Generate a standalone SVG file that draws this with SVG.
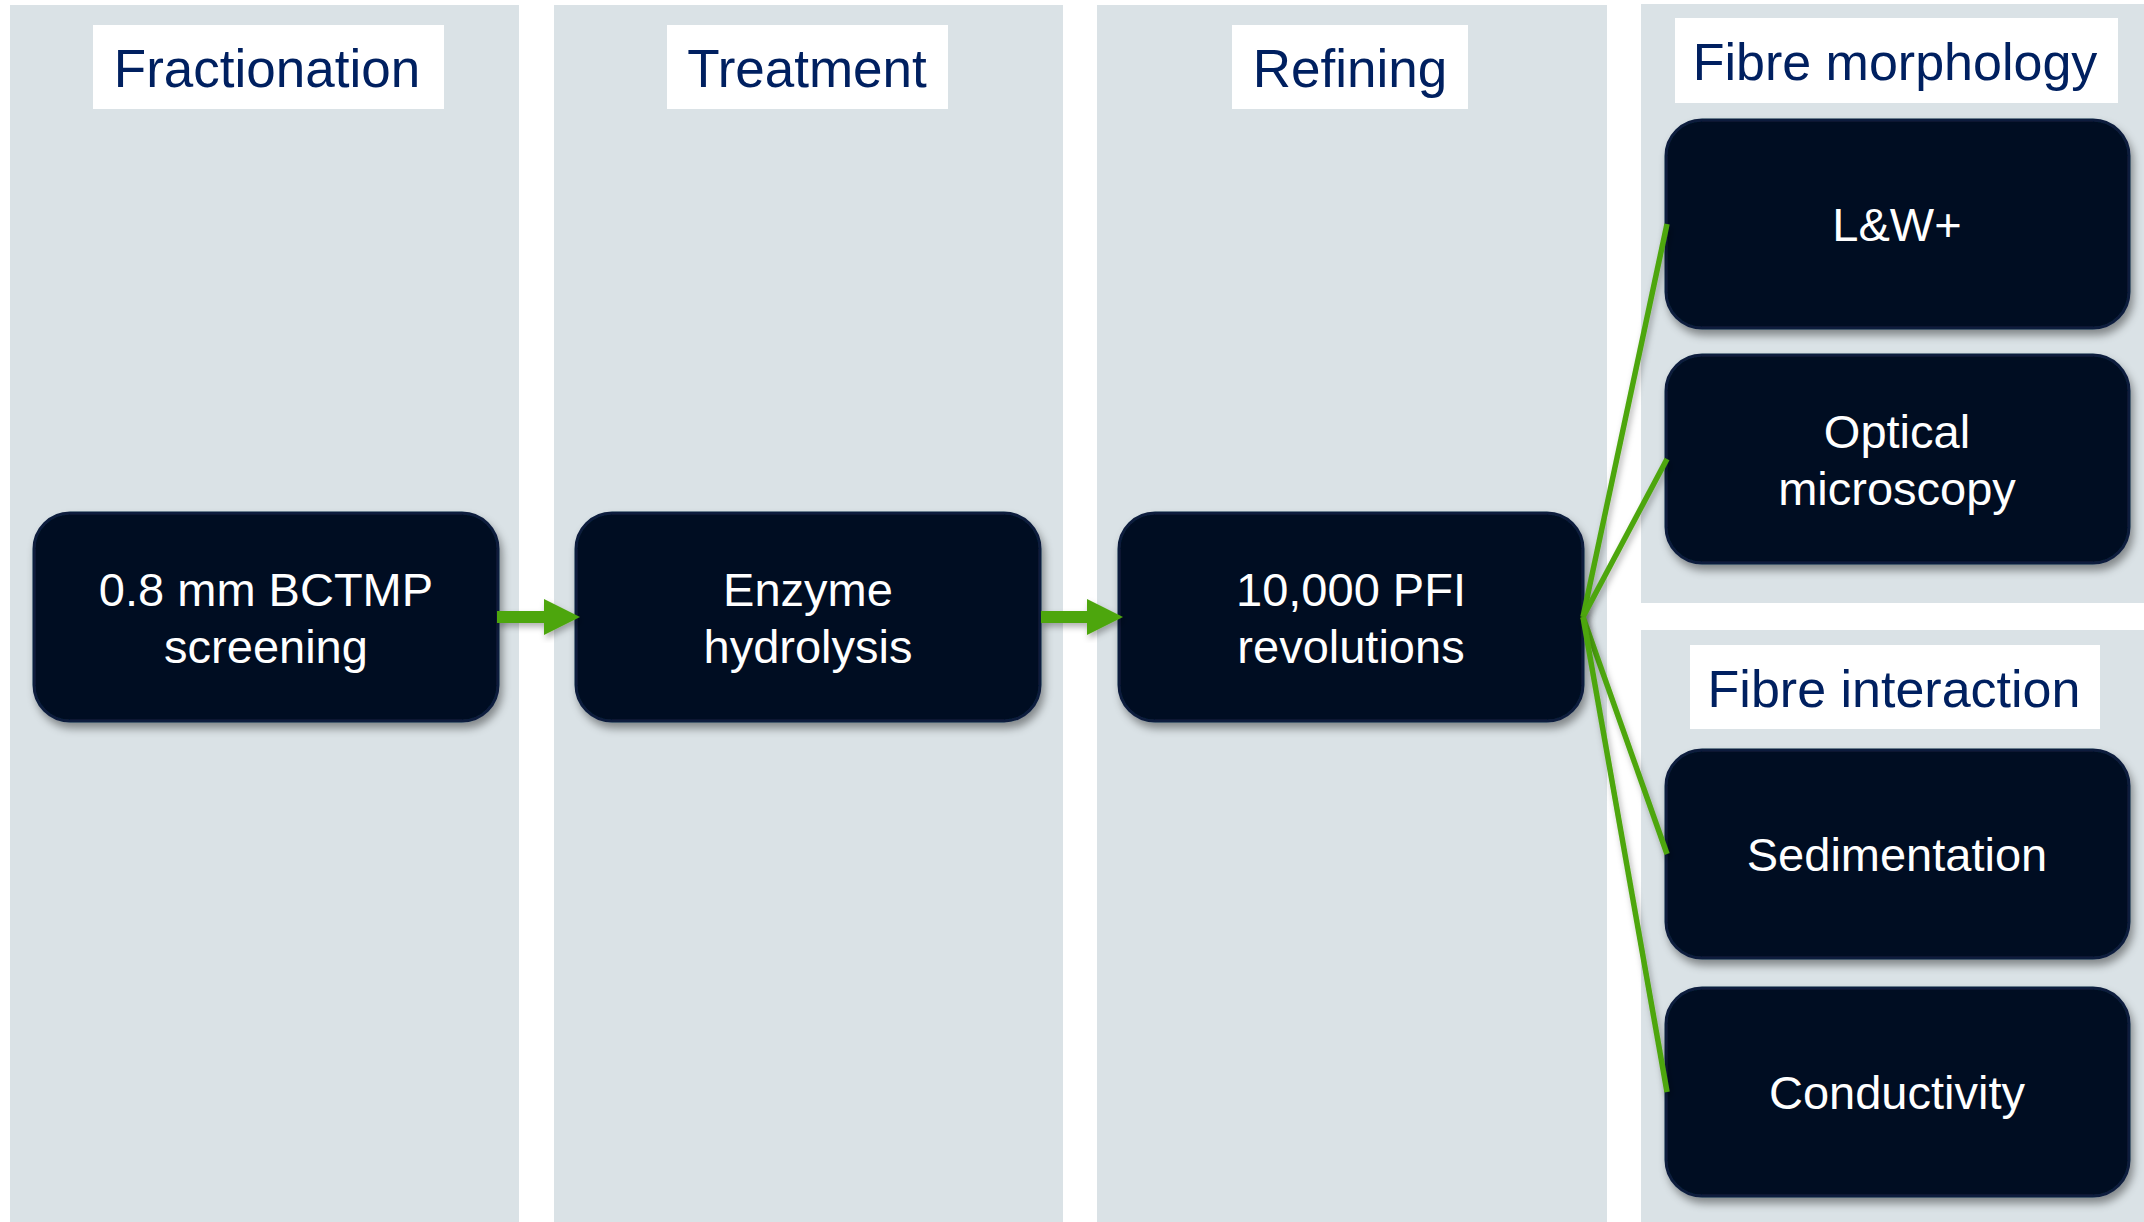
<svg xmlns="http://www.w3.org/2000/svg" width="2144" height="1222" viewBox="0 0 2144 1222">
  <style>
    .panel { fill: #dae2e6; }
    .label { fill: #ffffff; }
    .head { font-family: "Liberation Sans", Arial, sans-serif; font-size: 53px; fill: #002060; text-anchor: middle; }
    .head2 { font-size: 52px; }
    .box { fill: #021124; stroke: #0c1f3e; stroke-width: 3; filter: url(#shadow); }
    .txt { font-family: "Liberation Sans", Arial, sans-serif; font-size: 47px; fill: #ffffff; text-anchor: middle; }
    .link { stroke: #4ea60e; stroke-width: 5.5; fill: none; filter: url(#lshadow); }
    .arrow { fill: #4ea60e; filter: url(#lshadow); }
  </style>
  <defs>
    <filter id="shadow" x="-10%" y="-10%" width="125%" height="130%">
      <feDropShadow dx="3" dy="6" stdDeviation="4" flood-color="#000000" flood-opacity="0.4"/>
    </filter>
    <filter id="lshadow" x="-20%" y="-20%" width="140%" height="140%">
      <feDropShadow dx="2" dy="4" stdDeviation="3" flood-color="#000000" flood-opacity="0.3"/>
    </filter>
  </defs>
  <rect width="2144" height="1222" fill="#ffffff"/>

  <g id="panels">
    <rect class="panel" x="10" y="5" width="509" height="1217"/>
    <rect class="panel" x="554" y="5" width="509" height="1217"/>
    <rect class="panel" x="1097" y="5" width="510" height="1217"/>
    <rect class="panel" x="1641" y="4" width="503" height="599"/>
    <rect class="panel" x="1641" y="630" width="503" height="592"/>
  </g>

  <g id="head-fractionation">
    <rect class="label" x="93" y="25" width="351" height="84"/>
    <text class="head" x="267" y="87">Fractionation</text>
  </g>
  <g id="head-treatment">
    <rect class="label" x="667" y="25" width="281" height="84"/>
    <text class="head" x="807" y="87">Treatment</text>
  </g>
  <g id="head-refining">
    <rect class="label" x="1232" y="25" width="236" height="84"/>
    <text class="head" x="1350" y="87">Refining</text>
  </g>
  <g id="head-morphology">
    <rect class="label" x="1675" y="18" width="443" height="85"/>
    <text class="head head2" x="1895" y="80">Fibre morphology</text>
  </g>
  <g id="head-interaction">
    <rect class="label" x="1690" y="645" width="410" height="84"/>
    <text class="head head2" x="1894" y="707">Fibre interaction</text>
  </g>

  <g id="node-screening">
    <rect class="box" x="34" y="513" width="464" height="208" rx="36"/>
    <text class="txt" x="266" y="606">0.8 mm BCTMP</text>
    <text class="txt" x="266" y="663">screening</text>
  </g>
  <g id="node-enzyme">
    <rect class="box" x="576" y="513" width="464" height="208" rx="36"/>
    <text class="txt" x="808" y="606">Enzyme</text>
    <text class="txt" x="808" y="663">hydrolysis</text>
  </g>
  <g id="node-pfi">
    <rect class="box" x="1119" y="513" width="464" height="208" rx="36"/>
    <text class="txt" x="1351" y="606">10,000 PFI</text>
    <text class="txt" x="1351" y="663">revolutions</text>
  </g>
  <g id="node-lw">
    <rect class="box" x="1666" y="120" width="463" height="208" rx="36"/>
    <text class="txt" x="1897" y="241">L&amp;W+</text>
  </g>
  <g id="node-optical">
    <rect class="box" x="1666" y="355" width="463" height="208" rx="36"/>
    <text class="txt" x="1897" y="448">Optical</text>
    <text class="txt" x="1897" y="505">microscopy</text>
  </g>
  <g id="node-sedimentation">
    <rect class="box" x="1666" y="750" width="463" height="208" rx="36"/>
    <text class="txt" x="1897" y="871">Sedimentation</text>
  </g>
  <g id="node-conductivity">
    <rect class="box" x="1666" y="988" width="463" height="208" rx="36"/>
    <text class="txt" x="1897" y="1109">Conductivity</text>
  </g>

  <g id="connectors">
    <polygon class="arrow" points="497,611 544,611 544,599 580,617 544,635 544,623 497,623"/>
    <polygon class="arrow" points="1041,611 1087,611 1087,599 1123,617 1087,635 1087,623 1041,623"/>
    <line class="link" x1="1583" y1="617" x2="1667" y2="224"/>
    <line class="link" x1="1583" y1="617" x2="1667" y2="459"/>
    <line class="link" x1="1583" y1="617" x2="1667" y2="854"/>
    <line class="link" x1="1583" y1="617" x2="1667" y2="1092"/>
  </g>
</svg>
